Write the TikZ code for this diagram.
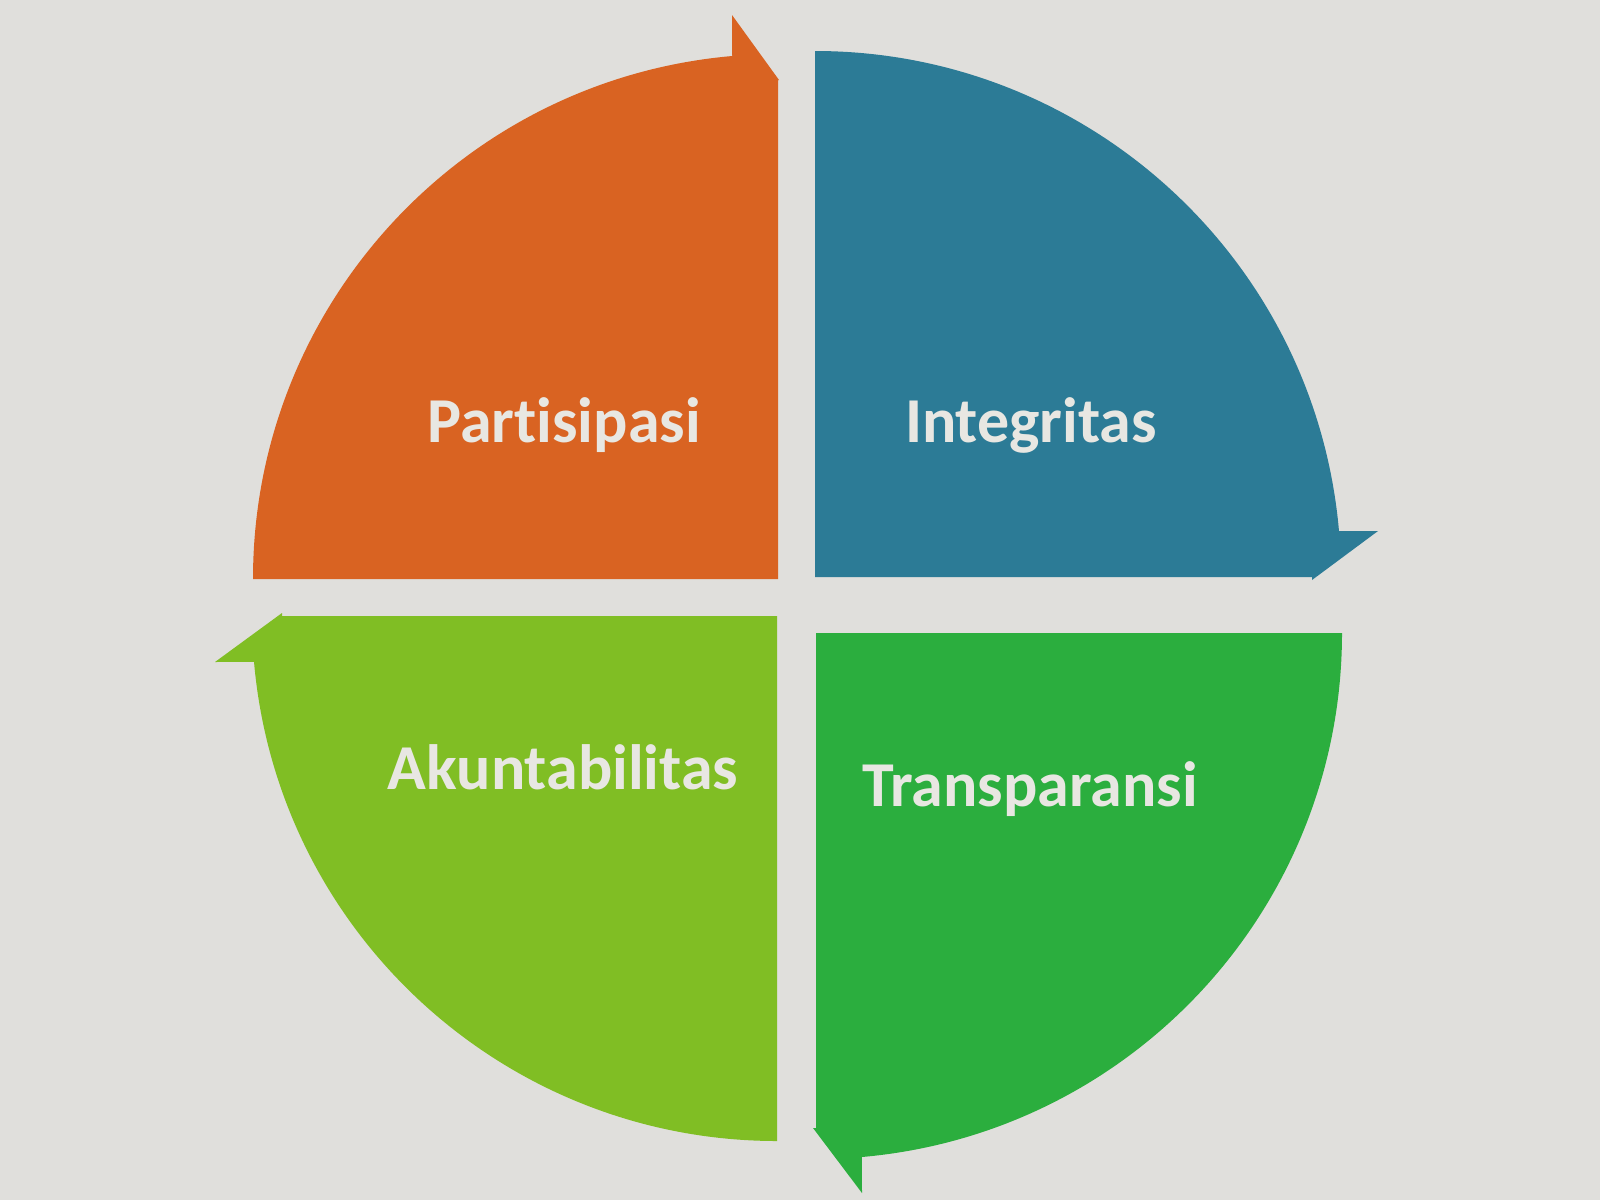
\documentclass[tikz,border=0pt]{standalone}
\usepackage{fontspec}
\setmainfont[Ligatures=NoCommon]{Carlito}
\definecolor{bgc}{RGB}{224,223,220}
\definecolor{orangec}{RGB}{217,99,34}
\definecolor{tealc}{RGB}{44,123,150}
\definecolor{greenc}{RGB}{43,174,62}
\definecolor{limec}{RGB}{128,190,36}
\definecolor{txtc}{RGB}{232,231,226}
\begin{document}
\begin{tikzpicture}[x=0.5pt,y=-0.5pt,
  lbl/.style={anchor=base,text=txtc,font=\fontsize{32}{36}\selectfont\bfseries,inner sep=0pt}]
\useasboundingbox[fill=bgc] (0,0) rectangle (1600,1200);
% orange (top-left), centre (778,579)
\fill[orangec] (778,579) -- (253,579) arc[start angle=180,end angle=265,radius=525]
  -- (732,15) -- (779,80) -- (778,80) -- cycle;
% teal (top-right), centre (815,577)
\fill[tealc] (815,577) -- (815,51) arc[start angle=-90,end angle=-5,radius=526]
  -- (1378,531) -- (1312,580) -- (1312,577) -- cycle;
% green (bottom-right), centre (816,633)
\fill[greenc] (816,633) -- (1342,633) arc[start angle=0,end angle=85,radius=526]
  -- (862,1193) -- (813,1128) -- (816,1128) -- cycle;
% lime (bottom-left), centre (777,616)
\fill[limec] (777,616) -- (777,1141) arc[start angle=90,end angle=175,radius=525]
  -- (215,662) -- (282,613) -- (282,616) -- cycle;
\node[lbl] (p) at (564,442) {Partisipasi};
\node[lbl] (i) at (1031,442) {Integritas};
\node[lbl] (a) at (563,789) {Akuntabilitas};
\node[lbl] (t) at (1030,806) {Transparansi};
\end{tikzpicture}
\end{document}
